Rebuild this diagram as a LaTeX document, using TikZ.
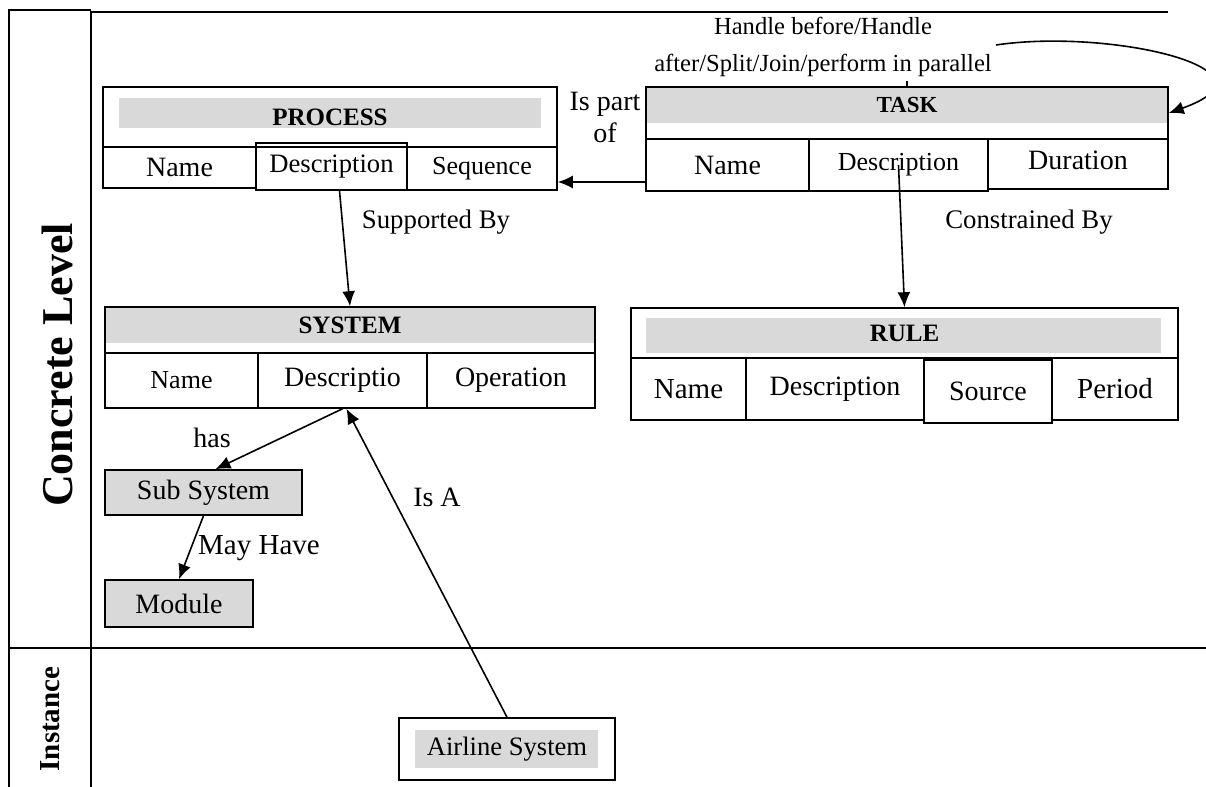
\documentclass[tikz,border=0pt]{standalone}
\usepackage{fontspec}
\setmainfont{Liberation Serif}
\usepackage{tikz}
\usetikzlibrary{arrows.meta,calc}
\definecolor{boxgray}{RGB}{217,217,217}
\tikzstyle{cell} = [draw, line width=0.8pt, inner sep=0pt, font=\fontsize{14}{16}\selectfont]
\tikzstyle{head} = [font=\bfseries\fontsize{12.5}{14}\selectfont]
\tikzstyle{lbl} = [inner sep=1pt, font=\fontsize{14}{16}\selectfont]
\tikzstyle{arr} = [-{Latex[length=7.5pt,width=6.5pt]}, line width=0.8pt]
% box from (x1,y1) to (x2,y2), in pixel units
\newcommand{\cellbox}[7][]{%
  \node[cell, minimum width={(#5-#3)*0.5pt}, minimum height={(#6-#4)*0.5pt}, #1]
    (#2) at ({(#3+#5)/2},{(#4+#6)/2}) {#7};
}

\begin{document}
\begin{tikzpicture}[x=0.5pt,y=-0.5pt]
\useasboundingbox (0,0) rectangle (1206,787);

% lanes
\draw[line width=0.8pt] (9,787) -- (9,10) -- (91,10);
\draw[line width=0.8pt] (91,787) -- (91,12) -- (1168,12);
\draw[line width=0.8pt] (9,648) -- (1206,648);
\node[rotate=90, font=\bfseries\fontsize{22}{24}\selectfont] (concrete) at (57,365) {Concrete Level};
\node[rotate=90, font=\bfseries\fontsize{14.5}{16}\selectfont] (instance) at (50,719) {Instance};

% PROCESS
\fill[boxgray] (119,98) rectangle (541,128);
\cellbox[head]{process}{103}{87}{557}{147}{PROCESS}
\cellbox{pName}{103}{147}{256}{188}{Name}
\cellbox[font=\fontsize{13.3}{14}\selectfont]{pDesc}{256}{143}{407}{190}{Description}
\cellbox[font=\fontsize{13}{14}\selectfont]{pSeq}{407}{147}{557}{190}{Sequence}

% TASK
\fill[boxgray] (646,87) rectangle (1168,123);
\cellbox[head, font=\bfseries\fontsize{11.5}{14}\selectfont, text depth=8pt]{task}{646}{87}{1168}{139}{TASK}
\cellbox{tName}{646}{139}{809}{191}{Name}
\cellbox[font=\fontsize{13}{14}\selectfont]{tDesc}{809}{139}{988}{191}{Description}
\cellbox[text depth=4pt]{tDur}{988}{139}{1168}{189}{Duration}

% SYSTEM
\fill[boxgray] (105,307) rectangle (595,343);
\cellbox[head, text depth=5pt]{system}{105}{307}{595}{353}{SYSTEM}
\cellbox[font=\fontsize{13}{14}\selectfont]{sName}{105}{353}{258}{408}{Name}
\cellbox{sDesc}{258}{353}{427}{408}{Descriptio}
\cellbox{sOp}{427}{353}{595}{408}{Operation}

% RULE
\fill[boxgray] (646,318) rectangle (1161,353);
\cellbox[head]{rule}{631}{308}{1178}{358}{RULE}
\cellbox[font=\fontsize{14.5}{16}\selectfont]{rName}{631}{358}{746}{420}{Name}
\cellbox{rDesc}{746}{358}{924}{420}{Description}
\cellbox{rSrc}{924}{360}{1052}{423}{Source}
\cellbox[font=\fontsize{14.5}{16}\selectfont]{rPer}{1052}{358}{1178}{420}{Period}

% parts and instance
\cellbox[fill=boxgray]{subsys}{105}{470}{302}{515}{Sub System}
\cellbox[fill=boxgray]{module}{105}{580}{253}{627}{Module}
\fill[boxgray] (415,730) rectangle (598,768);
\cellbox[font=\fontsize{13.3}{14}\selectfont]{airline}{399}{718}{615}{780}{Airline System}

% relations
\draw[arr] ([yshift=-8.5pt]tName.west) -- ([yshift=-8.5pt]tName.west -| pSeq.east);
\draw[arr] ([xshift=4pt]pDesc.south) -- (system.north);
\draw[arr] (tDesc.center) -- (rule.north);
\draw[arr] (sDesc.south) -- ([xshift=6pt]subsys.north);
\draw[arr] (subsys.south) -- (module.north);
\draw[arr] (airline.north) -- ([xshift=2pt]sDesc.south);
\coordinate (hstart) at (996,45);
\draw[arr] (hstart) .. controls (1110,28) and (1290,70) .. (task.east);
\draw[line width=0.6pt] (task.north) -- ++(0,-5);

\node[lbl, align=center] (ispart) at (605,117) {Is part\\of};
\node[lbl, font=\fontsize{13.4}{16}\selectfont] (supp) at (436,222) {Supported By};
\node[lbl, font=\fontsize{13.4}{16}\selectfont] (cons) at (1029,222) {Constrained By};
\node[lbl, align=center, font=\fontsize{12.3}{18.5}\selectfont] (handle) at (823,47) {Handle before/Handle\\after/Split/Join/perform in parallel};
\node[lbl] (has) at (212,438) {has};
\node[lbl, font=\fontsize{14.5}{16}\selectfont] (mayhave) at (259,548) {May Have};
\node[lbl] (isa) at (437,497) {Is A};
\end{tikzpicture}
\end{document}
